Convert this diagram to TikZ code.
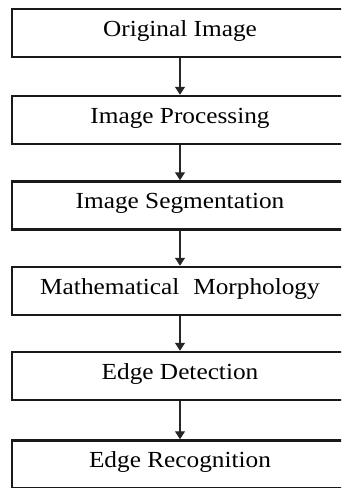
\documentclass[tikz,border=0pt]{standalone}
\usepackage{fontspec}
\setmainfont{Liberation Serif}
\usetikzlibrary{arrows.meta}
\tikzset{
  stagebox/.style={draw=black!90, line width=2.5pt, rectangle, minimum width=336pt,
    minimum height=48pt, inner sep=0pt, text height=16pt, text depth=10pt,
    font=\fontsize{23}{25}\selectfont, text=black},
  flowarrow/.style={draw=black!85, line width=1.4pt, -{Triangle[width=10pt,length=8pt]}}
}
\newcommand{\wide}[1]{\scalebox{1.1}[1]{#1}}
\begin{document}
\begin{tikzpicture}[x=1pt,y=-1pt]
\useasboundingbox (0,0) rectangle (341,488);
\clip (0,0) rectangle (341,488);
\node[stagebox] (b1) at (180,33) {\wide{Original Image}};
\node[stagebox] (b2) at (180,120) {\wide{Image Processing}};
\node[stagebox] (b3) at (180,205.5) {\wide{Image Segmentation}};
\node[stagebox] (b4) at (180,291) {\wide{Mathematical\hspace{0.3em} Morphology}};
\node[stagebox] (b5) at (180,376) {\wide{Edge Detection}};
\node[stagebox] (b6) at (180,464.5) {\wide{Edge Recognition}};
\draw[flowarrow] (b1.south) -- (b2.north);
\draw[flowarrow] (b2.south) -- (b3.north);
\draw[flowarrow] (b3.south) -- (b4.north);
\draw[flowarrow] (b4.south) -- (b5.north);
\draw[flowarrow] (b5.south) -- (b6.north);
\end{tikzpicture}
\end{document}
